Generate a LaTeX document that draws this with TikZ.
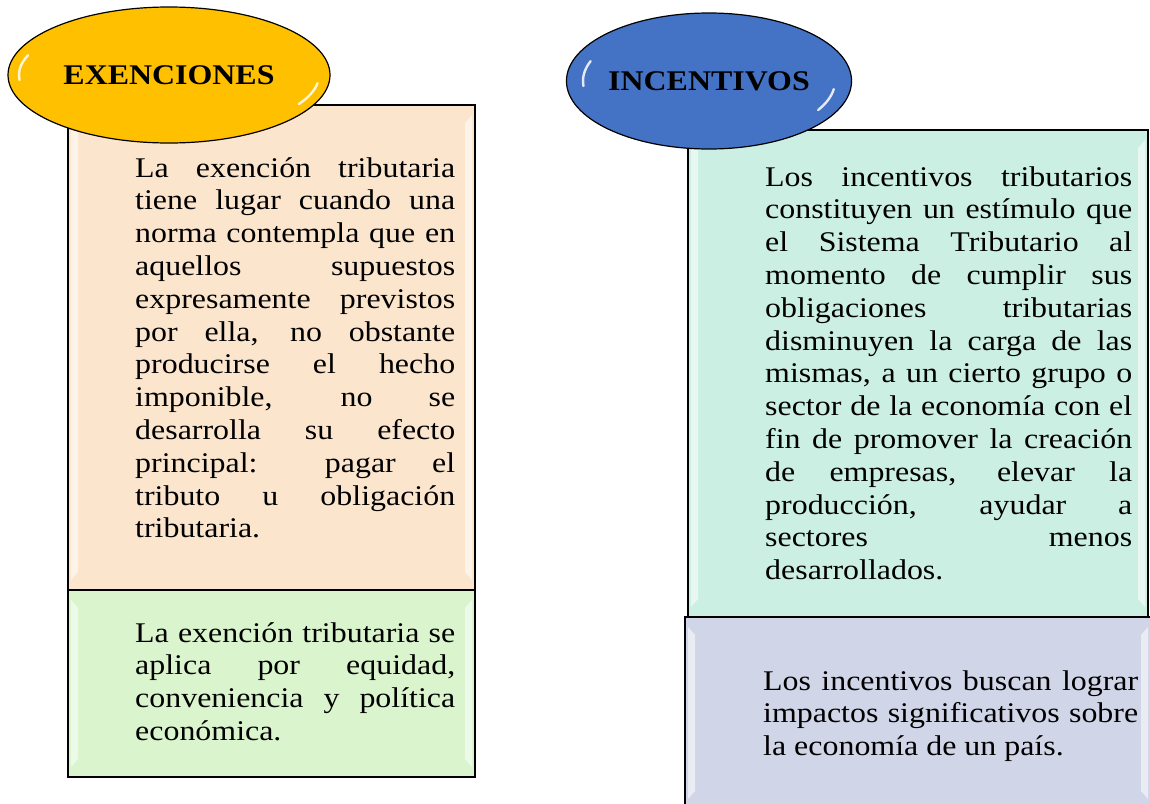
\documentclass[tikz,border=0pt]{standalone}
\usepackage{fontspec}
\setmainfont{Liberation Serif}[FakeStretch=1.12, Ligatures=CommonOff]
\usetikzlibrary{shapes.geometric}
\definecolor{peach}{HTML}{FBE5CD}
\definecolor{lgreen}{HTML}{DAF5CE}
\definecolor{mint}{HTML}{CCEFE3}
\definecolor{lavender}{HTML}{D1D5E8}
\definecolor{gold}{HTML}{FFC000}
\definecolor{blueoval}{HTML}{4472C4}
\newcommand{\bodysetup}{\fontsize{28.5}{32.8}\selectfont\hyphenpenalty=10000\relax\exhyphenpenalty=10000\relax\tolerance=10000\relax\hbadness=10000\relax\emergencystretch=0pt\relax}
\tikzset{
  panel/.style={draw=black, line width=1.8pt, anchor=north west, inner sep=0pt, outer sep=0pt},
  body/.style={anchor=base west, inner sep=0pt, align=justify, font=\bodysetup},
  oval/.style={ellipse, draw=black, line width=1.2pt, inner sep=0pt,
    font=\fontsize{28.5}{32.8}\selectfont\bfseries},
  bev/.style={white, opacity=0.55},
  hl/.style={white, opacity=0.85, line width=2.4pt, line cap=round},
}
\newcommand{\bevel}[1]{%
  \fill[bev] ([shift={(3,10)}]#1.north west) -- ([shift={(10,18)}]#1.north west) -- ([shift={(10,-18)}]#1.south west) -- ([shift={(3,-10)}]#1.south west) -- cycle;
  \fill[bev] ([shift={(-3,10)}]#1.north east) -- ([shift={(-10,18)}]#1.north east) -- ([shift={(-10,-18)}]#1.south east) -- ([shift={(-3,-10)}]#1.south east) -- cycle;
}
\begin{document}
\begin{tikzpicture}[x=1pt, y=-1pt]
\useasboundingbox (0,0) rectangle (1150,803);
\fill[white] (0,0) rectangle (1150,803);

% left panels
\node[panel, fill=peach, minimum width=407pt, minimum height=485pt] (lb1) at (68,105) {};
\node[panel, fill=lgreen, minimum width=407pt, minimum height=187pt] (lb2) at (68,590) {};
% right panels
\node[panel, fill=mint, minimum width=460pt, minimum height=487pt] (rb1) at (688,130) {};
\node[panel, fill=lavender, minimum width=466pt, minimum height=192pt] (rb2) at (685,617) {};
\bevel{lb1}
\bevel{lb2}
\bevel{rb1}
\bevel{rb2}

% texts
\node[body, text width=320pt] (t1) at (135,177) {La exención tributaria\linebreak
tiene lugar cuando una\linebreak
norma contempla que en\linebreak
aquellos supuestos\linebreak
expresamente previstos\linebreak
por ella, no obstante\linebreak
producirse el hecho\linebreak
imponible, no se\linebreak
desarrolla su efecto\linebreak
principal: pagar el\linebreak
tributo u obligación\linebreak
tributaria.};

\node[body, text width=320pt] (t2) at (135,642) {La exención tributaria se\linebreak
aplica por equidad,\linebreak
conveniencia y política\linebreak
económica.};

\node[body, text width=367pt] (t3) at (765,186) {Los incentivos tributarios\linebreak
constituyen un estímulo que\linebreak
el Sistema Tributario al\linebreak
momento de cumplir sus\linebreak
obligaciones tributarias\linebreak
disminuyen la carga de las\linebreak
mismas, a un cierto grupo o\linebreak
sector de la economía con el\linebreak
fin de promover la creación\linebreak
de empresas, elevar la\linebreak
producción, ayudar a\linebreak
sectores menos\linebreak
desarrollados.};

\node[body, text width=375pt] (t4) at (763,690) {Los incentivos buscan lograr\linebreak
impactos significativos sobre\linebreak
la economía de un país.};

% ovals
\node[oval, fill=gold, minimum width=322pt, minimum height=136pt] (e1) at (169,75) {EXENCIONES};
\node[oval, fill=blueoval, minimum width=274pt, minimum height=136pt] (e2) at (709,81) {INCENTIVOS};

% glossy highlights
\draw[hl] ([shift={(175:150 and 58)}]e1.center) arc[start angle=175, end angle=200, x radius=150, y radius=58];
\draw[hl] ([shift={(8:150 and 58)}]e1.center) arc[start angle=8, end angle=30, x radius=150, y radius=58];
\draw[hl] ([shift={(175:126 and 58)}]e2.center) arc[start angle=175, end angle=200, x radius=126, y radius=58];
\draw[hl] ([shift={(8:126 and 58)}]e2.center) arc[start angle=8, end angle=30, x radius=126, y radius=58];
\end{tikzpicture}
\end{document}
